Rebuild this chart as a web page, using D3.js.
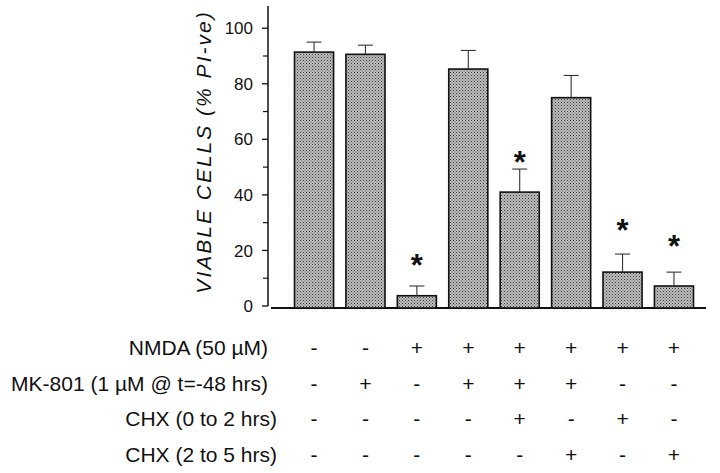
<!DOCTYPE html>
<html>
<head>
<meta charset="utf-8">
<script src="https://cdn.jsdelivr.net/npm/d3@7"></script>
<style>
  body { margin: 0; background: #fff; }
  svg { display: block; font-family: "Liberation Sans", Arial, sans-serif; }
</style>
</head>
<body>
<div id="chart"></div>
<script>
// values
const groups = ["g1", "g2", "g3", "g4", "g5", "g6", "g7", "g8"];
const viable = [91.4, 90.6, 3.7, 85.3, 41, 75, 12.2, 7.2];
const errUp = [3.6, 3.3, 3.5, 6.7, 8.3, 8, 6.5, 5];
const starLevel = [null, null, 17.3, null, 54.3, null, 29.9, 24.1];
const yTicks = [0, 20, 40, 60, 80, 100];
const yMinor = [10, 30, 50, 70, 90];

const rowLabels = ["NMDA (50 \u00b5M)", "MK-801 (1 \u00b5M @ t=-48 hrs)", "CHX (0 to 2 hrs)", "CHX (2 to 5 hrs)"];
const rowSigns = [
  ["-", "-", "+", "+", "+", "+", "+", "+"],
  ["-", "+", "-", "+", "+", "+", "-", "-"],
  ["-", "-", "-", "-", "+", "-", "+", "-"],
  ["-", "-", "-", "-", "-", "+", "-", "+"]
];

const width = 720, height = 473;

const svg = d3.select("#chart").append("svg")
    .attr("width", width)
    .attr("height", height);

// stipple fill
const pat = svg.append("defs").append("pattern")
    .attr("id", "stip")
    .attr("width", 3).attr("height", 3)
    .attr("patternUnits", "userSpaceOnUse");
pat.append("rect").attr("width", 3).attr("height", 3).attr("fill", "#bdbdbd");
pat.append("rect").attr("x", 0).attr("y", 0).attr("width", 1).attr("height", 1).attr("fill", "#3c3c3c");
pat.append("rect").attr("x", 1.5).attr("y", 1.5).attr("width", 1).attr("height", 1).attr("fill", "#5a5a5a");

const x = d3.scaleBand().domain(groups).range([294.5, 693.5]).paddingInner(0.24).paddingOuter(0);
const y = d3.scaleLinear().domain([0, 108]).range([306, 6]);

// y axis
const yAxis = svg.append("g").attr("transform", "translate(268,0)");
yAxis.append("line").attr("x1", 0).attr("x2", 0).attr("y1", y(108)).attr("y2", y(0))
    .attr("stroke", "#111").attr("stroke-width", 1.5);
yAxis.selectAll(".maj").data(yTicks).join("line")
    .attr("x1", -6).attr("x2", 0)
    .attr("y1", d => y(d)).attr("y2", d => y(d))
    .attr("stroke", "#111").attr("stroke-width", 1.3);
yAxis.selectAll(".min").data(yMinor).join("line")
    .attr("x1", -5).attr("x2", 0)
    .attr("y1", d => y(d)).attr("y2", d => y(d))
    .attr("stroke", "#111").attr("stroke-width", 1.2);
yAxis.selectAll("text").data(yTicks).join("text")
    .attr("x", -15).attr("y", d => y(d))
    .attr("dy", "0.36em")
    .attr("text-anchor", "end")
    .style("font-size", "17px")
    .attr("fill", "#111")
    .text(d => d);

// y title
svg.append("text")
    .attr("transform", "translate(211,152) rotate(-90)")
    .attr("text-anchor", "middle")
    .style("font-size", "21px")
    .style("font-style", "italic")
    .style("letter-spacing", "2px")
    .attr("fill", "#111")
    .text("VIABLE CELLS (% PI-ve)");

// baseline
svg.append("line")
    .attr("x1", 271).attr("x2", 706)
    .attr("y1", 308).attr("y2", 308)
    .attr("stroke", "#111").attr("stroke-width", 2);

// bars
svg.selectAll(".bar").data(viable).join("rect")
    .attr("x", (d, i) => x(groups[i]))
    .attr("width", x.bandwidth())
    .attr("y", d => y(d))
    .attr("height", d => 308 - y(d))
    .attr("fill", "url(#stip)")
    .attr("stroke", "#111")
    .attr("stroke-width", 1.6);

// error bars
const eb = svg.append("g").attr("stroke", "#333").attr("stroke-width", 1.1);
viable.forEach((v, i) => {
  const cx = x(groups[i]) + x.bandwidth() / 2;
  eb.append("line").attr("x1", cx).attr("x2", cx).attr("y1", y(v)).attr("y2", y(v + errUp[i]));
  eb.append("line").attr("x1", cx - 7.5).attr("x2", cx + 7.5).attr("y1", y(v + errUp[i])).attr("y2", y(v + errUp[i]));
});

// significance stars
svg.selectAll(".star").data(starLevel.map((s, i) => ({s, i})).filter(d => d.s !== null)).join("text")
    .attr("x", d => x(groups[d.i]) + x.bandwidth() / 2)
    .attr("y", d => y(d.s))
    .attr("dy", "0.58em")
    .attr("text-anchor", "middle")
    .style("font-size", "31px")
    .style("font-weight", "bold")
    .attr("fill", "#111")
    .text("*");

// treatment table
const rowY = [348, 384, 419, 455];
rowLabels.forEach((lab, r) => {
  svg.append("text")
      .attr("x", r < 2 ? 268 : 277)
      .attr("y", rowY[r])
      .attr("dy", "0.35em")
      .attr("text-anchor", "end")
      .style("font-size", "21px")
      .attr("fill", "#111")
      .text(lab);
  svg.selectAll(".s" + r).data(rowSigns[r]).join("text")
      .attr("x", (d, i) => x(groups[i]) + x.bandwidth() / 2)
      .attr("y", rowY[r])
      .attr("dy", "0.35em")
      .attr("text-anchor", "middle")
      .style("font-size", "21px")
      .attr("fill", "#111")
      .text(d => d);
});
</script>
</body>
</html>
